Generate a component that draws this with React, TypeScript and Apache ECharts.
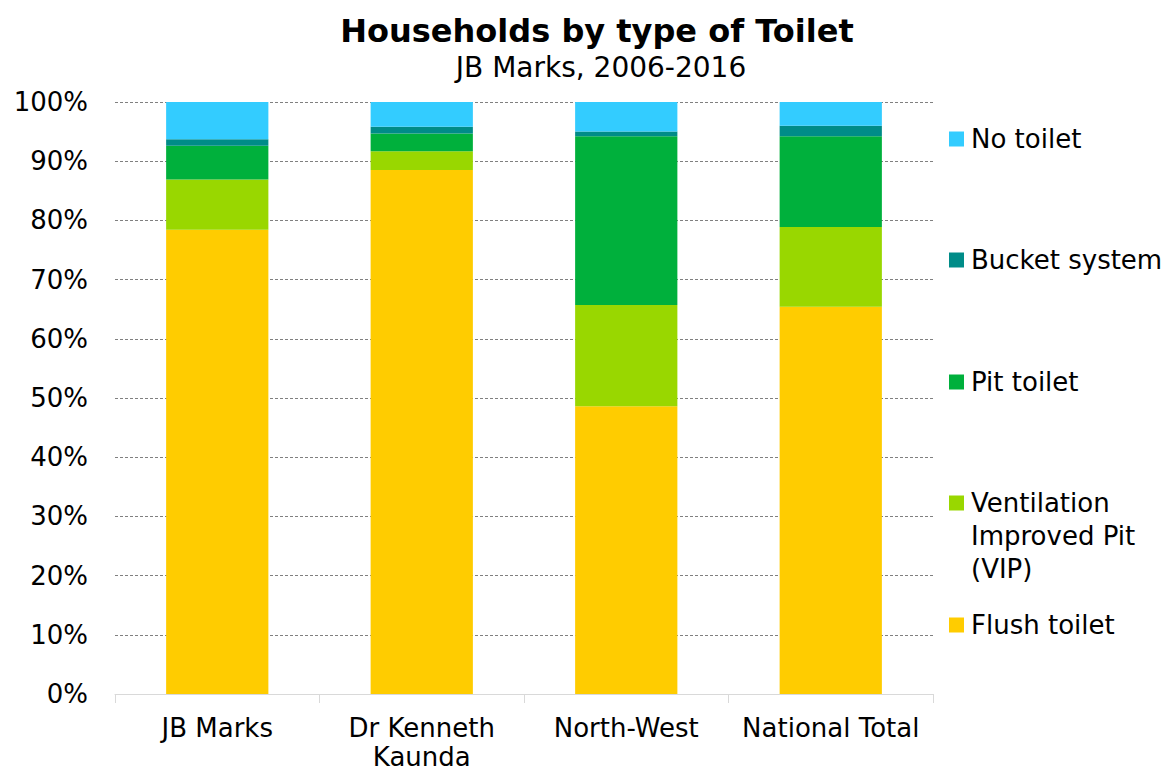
import React, { useEffect, useRef } from "react";
import * as echarts from "echarts";

const categories = ["JB Marks", "Dr Kenneth\nKaunda", "North-West", "National Total"];
const flushToilet = [78.4, 88.5, 48.6, 65.4];
const vipToilet = [8.5, 3.2, 17.1, 13.5];
const pitToilet = [5.7, 3.0, 28.5, 15.3];
const bucketSystem = [1.1, 1.1, 0.8, 1.8];
const noToilet = [6.3, 4.2, 5.0, 4.0];
const yTicks = [0, 10, 20, 30, 40, 50, 60, 70, 80, 90, 100];

const FONT = "DejaVu Sans";

const seriesDefs = [
  { name: "Flush toilet", data: flushToilet, color: "#FFCC00" },
  { name: "Ventilation Improved Pit (VIP)", data: vipToilet, color: "#99D700" },
  { name: "Pit toilet", data: pitToilet, color: "#00B03C" },
  { name: "Bucket system", data: bucketSystem, color: "#008C88" },
  { name: "No toilet", data: noToilet, color: "#33CCFF" },
];

const legendItems = [
  { label: "No toilet", color: "#33CCFF", y: 139 },
  { label: "Bucket system", color: "#008C88", y: 260 },
  { label: "Pit toilet", color: "#00B03C", y: 382 },
  { label: "Ventilation\nImproved Pit\n(VIP)", color: "#99D700", y: 503 },
  { label: "Flush toilet", color: "#FFCC00", y: 625 },
];

export default function App() {
  const ref = useRef<HTMLDivElement>(null);
  useEffect(() => {
    document.body.style.margin = "0";
    if (!ref.current) return;
    const chart = echarts.init(ref.current, undefined, { renderer: "svg" });
    const graphic: any[] = [
      {
        type: "text",
        x: 597,
        y: 31,
        style: {
          text: "Households by type of Toilet",
          font: `bold 32px '${FONT}'`,
          fill: "#000",
          textAlign: "center",
          textVerticalAlign: "middle",
        },
      },
      {
        type: "text",
        x: 601,
        y: 67,
        style: {
          text: "JB Marks, 2006-2016",
          font: `28px '${FONT}'`,
          fill: "#000",
          textAlign: "center",
          textVerticalAlign: "middle",
        },
      },
    ];
    legendItems.forEach((it) => {
      graphic.push({
        type: "rect",
        shape: { x: 949, y: it.y - 7.5, width: 15, height: 15 },
        style: { fill: it.color },
      });
      const multi = it.label.includes("\n");
      graphic.push({
        type: "text",
        x: 971,
        y: multi ? it.y - 16.5 : it.y,
        style: {
          text: it.label,
          font: `26px '${FONT}'`,
          fill: "#000",
          lineHeight: 33,
          textAlign: "left",
          textVerticalAlign: multi ? "top" : "middle",
        },
      });
    });

    chart.setOption({
      animation: false,
      textStyle: { fontFamily: FONT },
      grid: { left: 115, right: 234, top: 102, bottom: 78, outerBoundsMode: "none" },
      graphic,
      xAxis: {
        type: "category",
        data: categories,
        boundaryGap: true,
        axisLine: { show: true, lineStyle: { color: "#D9D9D9", width: 1 } },
        axisTick: { show: true, length: 9, lineStyle: { color: "#D9D9D9" } },
        axisLabel: {
          color: "#000",
          fontSize: 26,
          fontFamily: FONT,
          margin: 19,
          lineHeight: 29,
          interval: 0,
        },
      },
      yAxis: {
        type: "value",
        min: 0,
        max: 100,
        interval: 10,
        axisLine: { show: false },
        axisTick: { show: false },
        splitLine: { show: true, lineStyle: { color: "#808080", type: [3, 2], width: 1 } },
        axisLabel: {
          color: "#000",
          fontSize: 26,
          fontFamily: FONT,
          margin: 27,
          formatter: (v: number) => (yTicks.includes(v) ? `${v}%` : ""),
        },
      },
      series: seriesDefs.map((s) => ({
        name: s.name,
        type: "bar",
        stack: "total",
        data: s.data,
        barWidth: "50%",
        itemStyle: { color: s.color },
        emphasis: { disabled: true },
      })),
    });
    return () => chart.dispose();
  }, []);
  return <div ref={ref} style={{ width: 1167, height: 772 }} />;
}
